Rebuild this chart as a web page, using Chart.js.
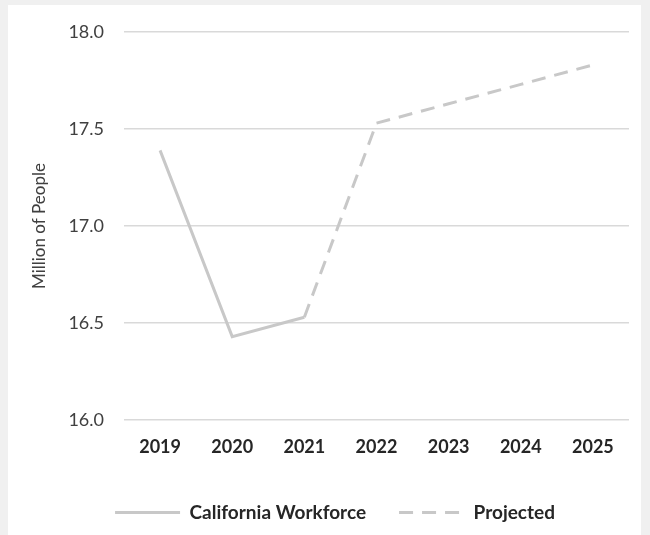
<!DOCTYPE html>
<html>
<head>
<meta charset="utf-8">
<script src="https://cdn.jsdelivr.net/npm/chart.js@4"></script>
<style>
    body { margin: 0; background: #f0f0f0; }
    #panel { position: absolute; left: 8px; top: 5px; width: 633px; height: 530px; background: #ffffff; }
</style>
</head>
<body>
<div id="panel"><canvas id="chart" width="633" height="530"></canvas></div>
<script>
const years = ['2019', '2020', '2021', '2022', '2023', '2024', '2025'];
const workforce = [17.39, 16.43, 16.53, null, null, null, null];
const projected = [null, null, 16.53, 17.53, 17.63, 17.73, 17.83];
const yTicks = [16.0, 16.5, 17.0, 17.5, 18.0];

document.addEventListener('DOMContentLoaded', function() {
    const ctx = document.getElementById('chart').getContext('2d');
    const lineColor = '#c8c8c8';
    const textColor = '#404040';
    const fontFamily = "Lato, sans-serif";

    // keep the legend's wide item gap without its tall box, and nudge it right a bit
    const legendBox = {
        id: 'legendBox',
        afterInit: function(chart) {
            const fit = chart.legend.fit;
            chart.legend.fit = function() {
                fit.call(this);
                this.height = 65;
            };
        },
        afterLayout: function(chart) {
            chart.legend.left += 8;
            chart.legend.right += 8;
        }
    };

    new Chart(ctx, {
        type: 'line',
        data: {
            labels: years,
            datasets: [{
                label: 'California Workforce',
                data: workforce,
                borderColor: lineColor,
                backgroundColor: lineColor,
                borderWidth: 3,
                pointRadius: 0,
                fill: false
            }, {
                label: 'Projected',
                data: projected,
                borderColor: lineColor,
                backgroundColor: lineColor,
                borderWidth: 3,
                borderDash: [14, 9],
                pointRadius: 0,
                fill: false
            }]
        },
        options: {
            responsive: false,
            animation: false,
            layout: {
                padding: { top: 27, right: 12, left: 17, bottom: 0 }
            },
            plugins: {
                tooltip: { enabled: false },
                legend: {
                    position: 'bottom',
                    labels: {
                        usePointStyle: true,
                        pointStyle: 'line',
                        pointStyleWidth: 65,
                        padding: 33,
                        color: '#262626',
                        font: { family: fontFamily, size: 19, weight: 'bold' },
                        generateLabels: function(chart) {
                            const items = Chart.defaults.plugins.legend.labels.generateLabels(chart);
                            items.forEach(item => {
                                const ds = chart.data.datasets[item.datasetIndex];
                                item.lineDash = ds.borderDash || [];
                                item.lineWidth = 3;
                                item.strokeStyle = ds.borderColor;
                            });
                            return items;
                        }
                    }
                }
            },
            scales: {
                x: {
                    offset: true,
                    grid: { display: false },
                    border: { display: false },
                    afterFit: function(scale) {
                        scale.height = 50;
                    },
                    ticks: {
                        color: '#262626',
                        padding: 8,
                        font: { family: fontFamily, size: 18, weight: 'bold' }
                    }
                },
                y: {
                    min: 16,
                    max: 18,
                    afterBuildTicks: function(scale) {
                        scale.ticks = yTicks.map(v => ({ value: v }));
                    },
                    afterFit: function(scale) {
                        scale.width = 99;
                        scale.paddingTop = 0;
                    },
                    grid: { color: '#d9d9d9', lineWidth: 1.5, drawTicks: false },
                    border: { display: false },
                    title: {
                        display: true,
                        text: 'Million of People',
                        color: textColor,
                        font: { family: fontFamily, size: 17 }
                    },
                    ticks: {
                        color: textColor,
                        padding: 20,
                        font: { family: fontFamily, size: 18 },
                        callback: function(value) {
                            return Number(value).toFixed(1);
                        }
                    }
                }
            }
        },
        plugins: [legendBox]
    });
});
</script>
</body>
</html>
